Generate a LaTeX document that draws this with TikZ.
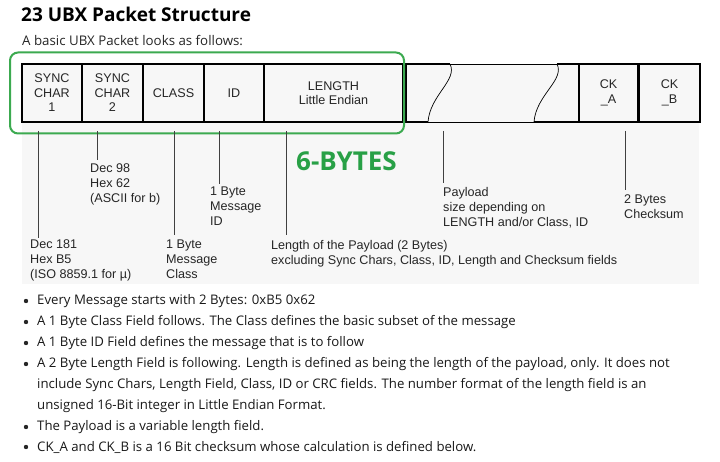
\documentclass[tikz,border=0pt]{standalone}
\usepackage{fontspec}
\setmainfont{Open Sans}
\newfontfamily\arialf{Liberation Sans}
\begin{document}
\begin{tikzpicture}[x=1pt,y=-1pt,
  lab/.style={font=\arialf\fontsize{12.6}{15}\selectfont,align=left,anchor=north west,inner sep=0pt,text=black!85},
  box/.style={draw=black,line width=1.6pt,fill=black!3,font=\arialf\fontsize{12.6}{14.5}\selectfont,align=center,text=black!85},
  tick/.style={draw=black!75,line width=0.8pt},
  bul/.style={font=\fontsize{13.2}{21}\selectfont,anchor=west,inner sep=0pt,text=black!90}]
\useasboundingbox (0,0) rectangle (720,462);
\fill[white] (0,0) rectangle (720,462);
\fill[black!3] (22,64) rectangle (699,284);
\node[anchor=west,font=\bfseries\fontsize{19}{22}\selectfont,inner sep=0pt] (title) at (21,14) {23 UBX Packet Structure};
\node[anchor=west,font=\fontsize{13.3}{15}\selectfont,inner sep=0pt,text=black!85] (sub) at (22,41) {A basic UBX Packet looks as follows:};
% boxes
\node[box,minimum width=60pt,minimum height=58pt] (s1) at (52,93) {SYNC\\CHAR\\1};
\node[box,minimum width=61pt,minimum height=58pt] (s2) at (112.5,93) {SYNC\\CHAR\\2};
\node[box,minimum width=61pt,minimum height=58pt] (cl) at (173.5,93) {CLASS};
\node[box,minimum width=60pt,minimum height=58pt] (id) at (234,93) {ID};
\node[box,minimum width=139pt,minimum height=58pt] (len) at (333.5,93) {LENGTH\\Little Endian};
\node[box,minimum width=59pt,minimum height=58pt] (cka) at (608.5,93) {CK\\\_A};
\node[box,minimum width=61pt,minimum height=58pt] (ckb) at (669.5,93) {CK\\\_B};
% payload break
\draw[line width=1.6pt] (428,122) -- (406,122) -- (406,64) -- (450,64);
\draw[line width=0.7pt] (450,64) .. controls (458,80) and (430,95) .. (428,122);
\draw[line width=0.7pt] (450,64) -- (557,64) (428,122) -- (534,122);
\draw[line width=0.7pt] (557,64) .. controls (565,80) and (536,95) .. (534,122);
\draw[line width=1.6pt] (557,64) -- (579,64) (534,122) -- (579,122);
% green frame
\node[draw={rgb,255:red,60;green,170;blue,80},line width=2pt,rounded corners=8pt,minimum width=394pt,minimum height=81pt,inner sep=0pt] (frame) at (207,93) {};
\node[anchor=west,inner sep=0pt,font=\bfseries\fontsize{26}{28}\selectfont,text={rgb,255:red,40;green,160;blue,70}] (six) at (296,161) {6-BYTES};
% ticks
\coordinate (t1) at (38,238); \coordinate (t2) at (97,160); \coordinate (t3) at (174,235);
\coordinate (t4) at (219,184); \coordinate (t5) at (286,235); \coordinate (t6) at (443,183); \coordinate (t7) at (625,190);
\draw[tick] (38,131) -- (t1); \draw[tick] (97,131) -- (t2); \draw[tick] (174,131) -- (t3);
\draw[tick] (219,131) -- (t4); \draw[tick] (286,131) -- (t5); \draw[tick] (443,131) -- (t6); \draw[tick] (625,131) -- (t7);
% labels
\node[lab] (l1) at (30,240) {Dec 181\\Hex B5\\(ISO 8859.1 for µ)};
\node[lab] (l2) at (90,164) {Dec 98\\Hex 62\\(ASCII for b)};
\node[lab] (l3) at (166,240) {1 Byte\\Message\\Class};
\node[lab] (l4) at (210,187) {1 Byte\\Message\\ID};
\node[lab] (l5) at (271,240) {Length of the Payload (2 Bytes)\\excluding Sync Chars, Class, ID, Length and Checksum fields};
\node[lab] (l6) at (443,187) {Payload\\size depending on\\LENGTH and/or Class, ID};
\node[lab] (l7) at (624,195) {2 Bytes\\Checksum};
% bullets
\foreach \y in {301,322,343,364,427,447} \fill[black!85] (26,\y) circle (2.2pt);
\node[bul] (b1) at (37,301) {Every Message starts with 2 Bytes: 0xB5 0x62};
\node[bul] (b2) at (37,322) {A 1 Byte Class Field follows. The Class defines the basic subset of the message};
\node[bul] (b3) at (37,343) {A 1 Byte ID Field defines the message that is to follow};
\node[bul] (b4) at (37,364) {A 2 Byte Length Field is following. Length is defined as being the length of the payload, only. It does not};
\node[bul] (b4b) at (37,385) {include Sync Chars, Length Field, Class, ID or CRC fields. The number format of the length field is an};
\node[bul] (b4c) at (37,406) {unsigned 16-Bit integer in Little Endian Format.};
\node[bul] (b5) at (37,427) {The Payload is a variable length field.};
\node[bul] (b6) at (37,447) {CK\_A and CK\_B is a 16 Bit checksum whose calculation is defined below.};
\end{tikzpicture}
\end{document}
